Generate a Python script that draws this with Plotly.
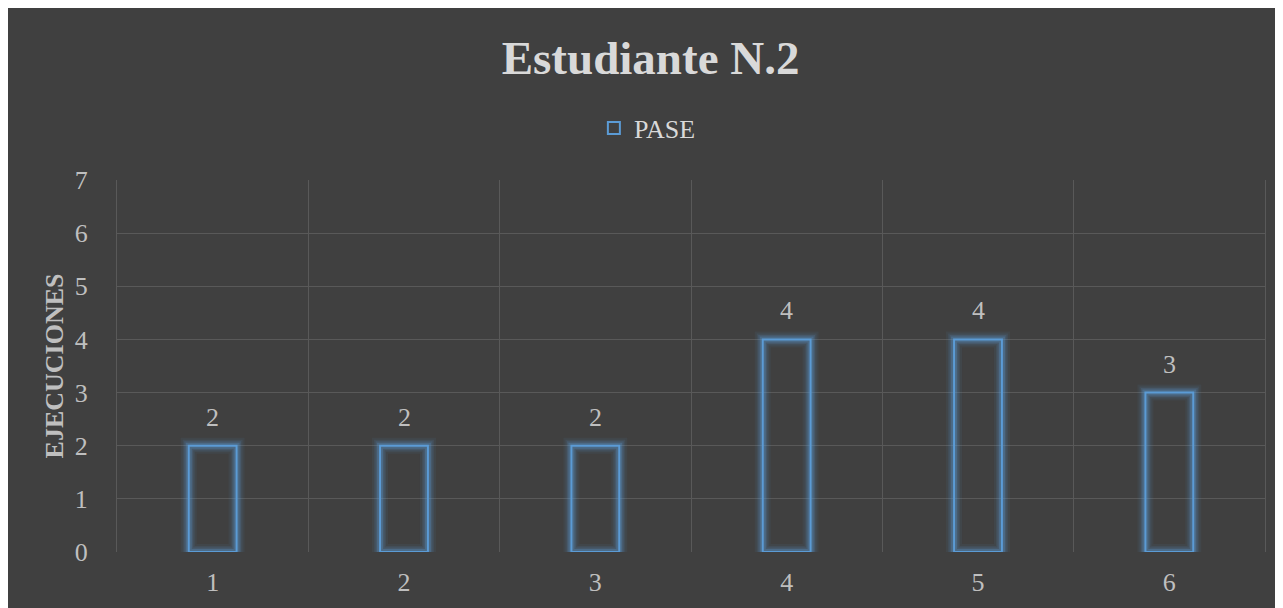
import plotly.graph_objects as go

categories = ["1", "2", "3", "4", "5", "6"]
values = [2, 2, 2, 4, 4, 3]
series_name = "PASE"
title_text = "Estudiante N.2"
y_title = "EJECUCIONES"
y_ticks = [0, 1, 2, 3, 4, 5, 6, 7]

BG = "#404040"
GRID = "#595959"
BLUE = "#5b9bd5"
FONT = "Liberation Serif, Times New Roman, serif"

fig = go.Figure()

# glow layers
for w, a in [(16, 0.07), (12, 0.10), (9, 0.15), (6, 0.28)]:
    fig.add_trace(go.Bar(
        x=categories, y=values, showlegend=False, hoverinfo="skip",
        marker=dict(color="rgba(0,0,0,0)", line=dict(color=f"rgba(91,155,213,{a})", width=w)),
    ))

fig.add_trace(go.Bar(
    x=categories, y=values, name=series_name,
    marker=dict(color="rgba(0,0,0,0)", line=dict(color=BLUE, width=2)),
))

for i, v in enumerate(values):
    fig.add_annotation(x=i, y=v, text=str(v), showarrow=False, yanchor="bottom",
                       yshift=12, font=dict(family=FONT, size=26, color="#bfbfbf"))

fig.update_layout(
    width=1275, height=600,
    margin=dict(l=109, r=18, t=172, b=56),
    paper_bgcolor=BG, plot_bgcolor=BG,
    barmode="overlay", bargap=0.75,
    title=dict(text=f"<b>{title_text}</b>", x=0.504, xanchor="center", y=1 - 50 / 600,
               yanchor="middle", yref="container",
               font=dict(family=FONT, size=47, color="#d9d9d9")),
    showlegend=True,
    legend=dict(orientation="h", x=0.462, xanchor="center", y=1 - 120 / 600, yanchor="middle",
                yref="container", font=dict(family=FONT, size=26, color="#d9d9d9"),
                bgcolor="rgba(0,0,0,0)"),
    xaxis=dict(type="category", tickson="boundaries", showgrid=True, gridcolor=GRID, gridwidth=1,
               ticks="", showline=False, zeroline=False, ticklabelstandoff=12,
               range=[-0.5, len(categories) - 0.5],
               tickfont=dict(family=FONT, size=26, color="#bfbfbf")),
    yaxis=dict(range=[0, 7], tickvals=y_ticks, showgrid=True, gridcolor=GRID, gridwidth=1,
               zeroline=False, showline=True, mirror=True, linecolor=GRID, linewidth=1,
               ticks="", ticklabelstandoff=23,
               tickfont=dict(family=FONT, size=26, color="#bfbfbf"),
               title=dict(text=f"<b>{y_title}</b>", standoff=3,
                          font=dict(family=FONT, size=26, color="#bfbfbf"))),
)

fig.write_html("out.html")
